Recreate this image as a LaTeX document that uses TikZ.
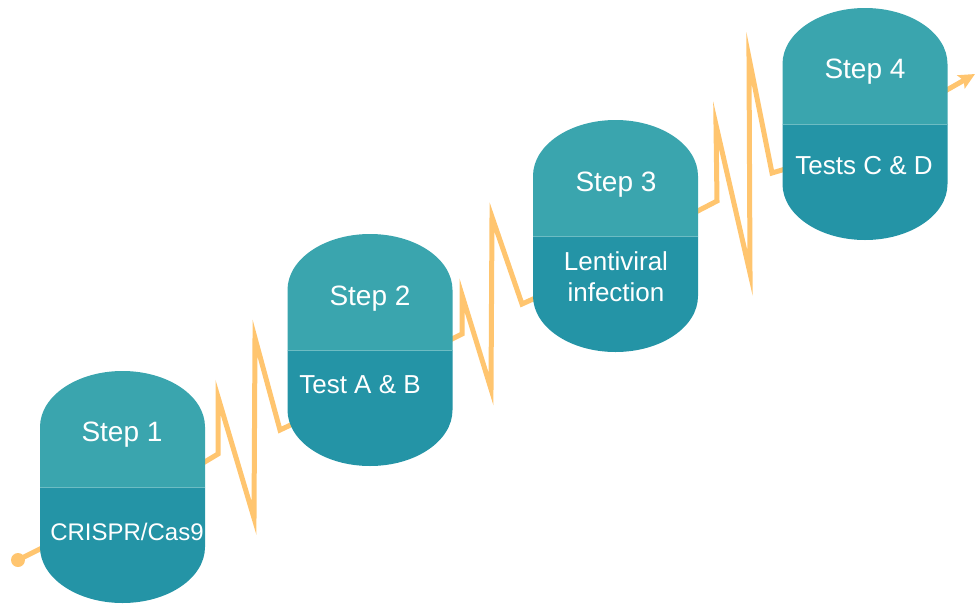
\documentclass[tikz,border=0pt]{standalone}
\usepackage{fontspec}
\setmainfont{Liberation Sans}
\usetikzlibrary{arrows.meta}
\definecolor{topc}{HTML}{3AA5AE}
\definecolor{botc}{HTML}{2494A6}
\definecolor{splitc}{HTML}{6DBCC3}
\definecolor{boltc}{HTML}{FFC56F}
\tikzset{
  bolt/.style={draw=boltc, line width=5pt, line join=miter, miter limit=40},
  steplabel/.style={text=white, font=\fontsize{28}{32}\selectfont, anchor=base, inner sep=0pt},
  sublabel/.style={text=white, font=\fontsize{26}{31}\selectfont, anchor=base, inner sep=0pt},
}
\newcommand{\capbox}[3]{%
  \begin{scope}[shift={(#2,-#3)}]
    \fill[topc] (-82.5,0) -- (-82.5,60) arc[start angle=180,end angle=0,x radius=82.5pt,y radius=56pt] -- (82.5,0) -- cycle;
    \fill[botc] (-82.5,0) -- (-82.5,-60) arc[start angle=180,end angle=360,x radius=82.5pt,y radius=56pt] -- (82.5,0) -- cycle;
    \draw[splitc, line width=0.7pt] (-82.5,0) -- (82.5,0);
    \node[inner sep=0pt, minimum width=165pt, minimum height=232pt] (#1) at (0,0) {};
  \end{scope}}
\begin{document}
\begin{tikzpicture}[x=1pt,y=1pt]
\useasboundingbox (0,0) rectangle (975,-603);
% connectors (behind boxes)
\coordinate (start) at (18,-560);
\coordinate (in1) at (48,-545);
\coordinate (out1) at (198,-466);
\coordinate (in2) at (297,-422);
\coordinate (out2) at (446,-342);
\coordinate (in3) at (542,-295);
\coordinate (out3) at (690,-215);
\coordinate (in4) at (792,-167);
\coordinate (out4) at (938,-95);
\coordinate (tip) at (975,-74);
\fill[boltc] (start) circle[radius=7pt];
\draw[bolt] (start) -- (in1);
\draw[bolt] (out1) -- (218,-454) -- (218,-397) -- (254,-518) -- (255,-338) -- (280,-430) -- (in2);
\draw[bolt] (out2) -- (462,-334) -- (462,-295) -- (491,-389) -- (492,-217) -- (522,-304) -- (in3);
\draw[bolt] (out3) -- (717,-201) -- (716,-125) -- (750,-273) -- (749,-58) -- (772,-173) -- (in4);
\draw[bolt, -{Stealth[length=16pt,width=15pt,inset=3pt]}] (out4) -- (tip);
% boxes
\capbox{b1}{122.5}{487}
\capbox{b2}{370}{350}
\capbox{b3}{615.5}{236}
\capbox{b4}{865}{124}
% labels
\node[steplabel] (s1) at (122,-441) {Step 1};
\node[text=white, font=\fontsize{24}{28}\selectfont, anchor=base, inner sep=0pt] (t1) at (127,-540) {CRISPR/Cas9};
\node[steplabel] (s2) at (370,-305) {Step 2};
\node[sublabel] (t2) at (360,-393) {Test A \& B};
\node[steplabel] (s3) at (616,-191) {Step 3};
\node[text=white, font=\fontsize{26}{31}\selectfont, align=center, inner sep=0pt] (t3) at (616,-277) {Lentiviral\\infection};
\node[steplabel] (s4) at (865,-78) {Step 4};
\node[sublabel] (t4) at (864,-174) {Tests C \& D};
\end{tikzpicture}
\end{document}
